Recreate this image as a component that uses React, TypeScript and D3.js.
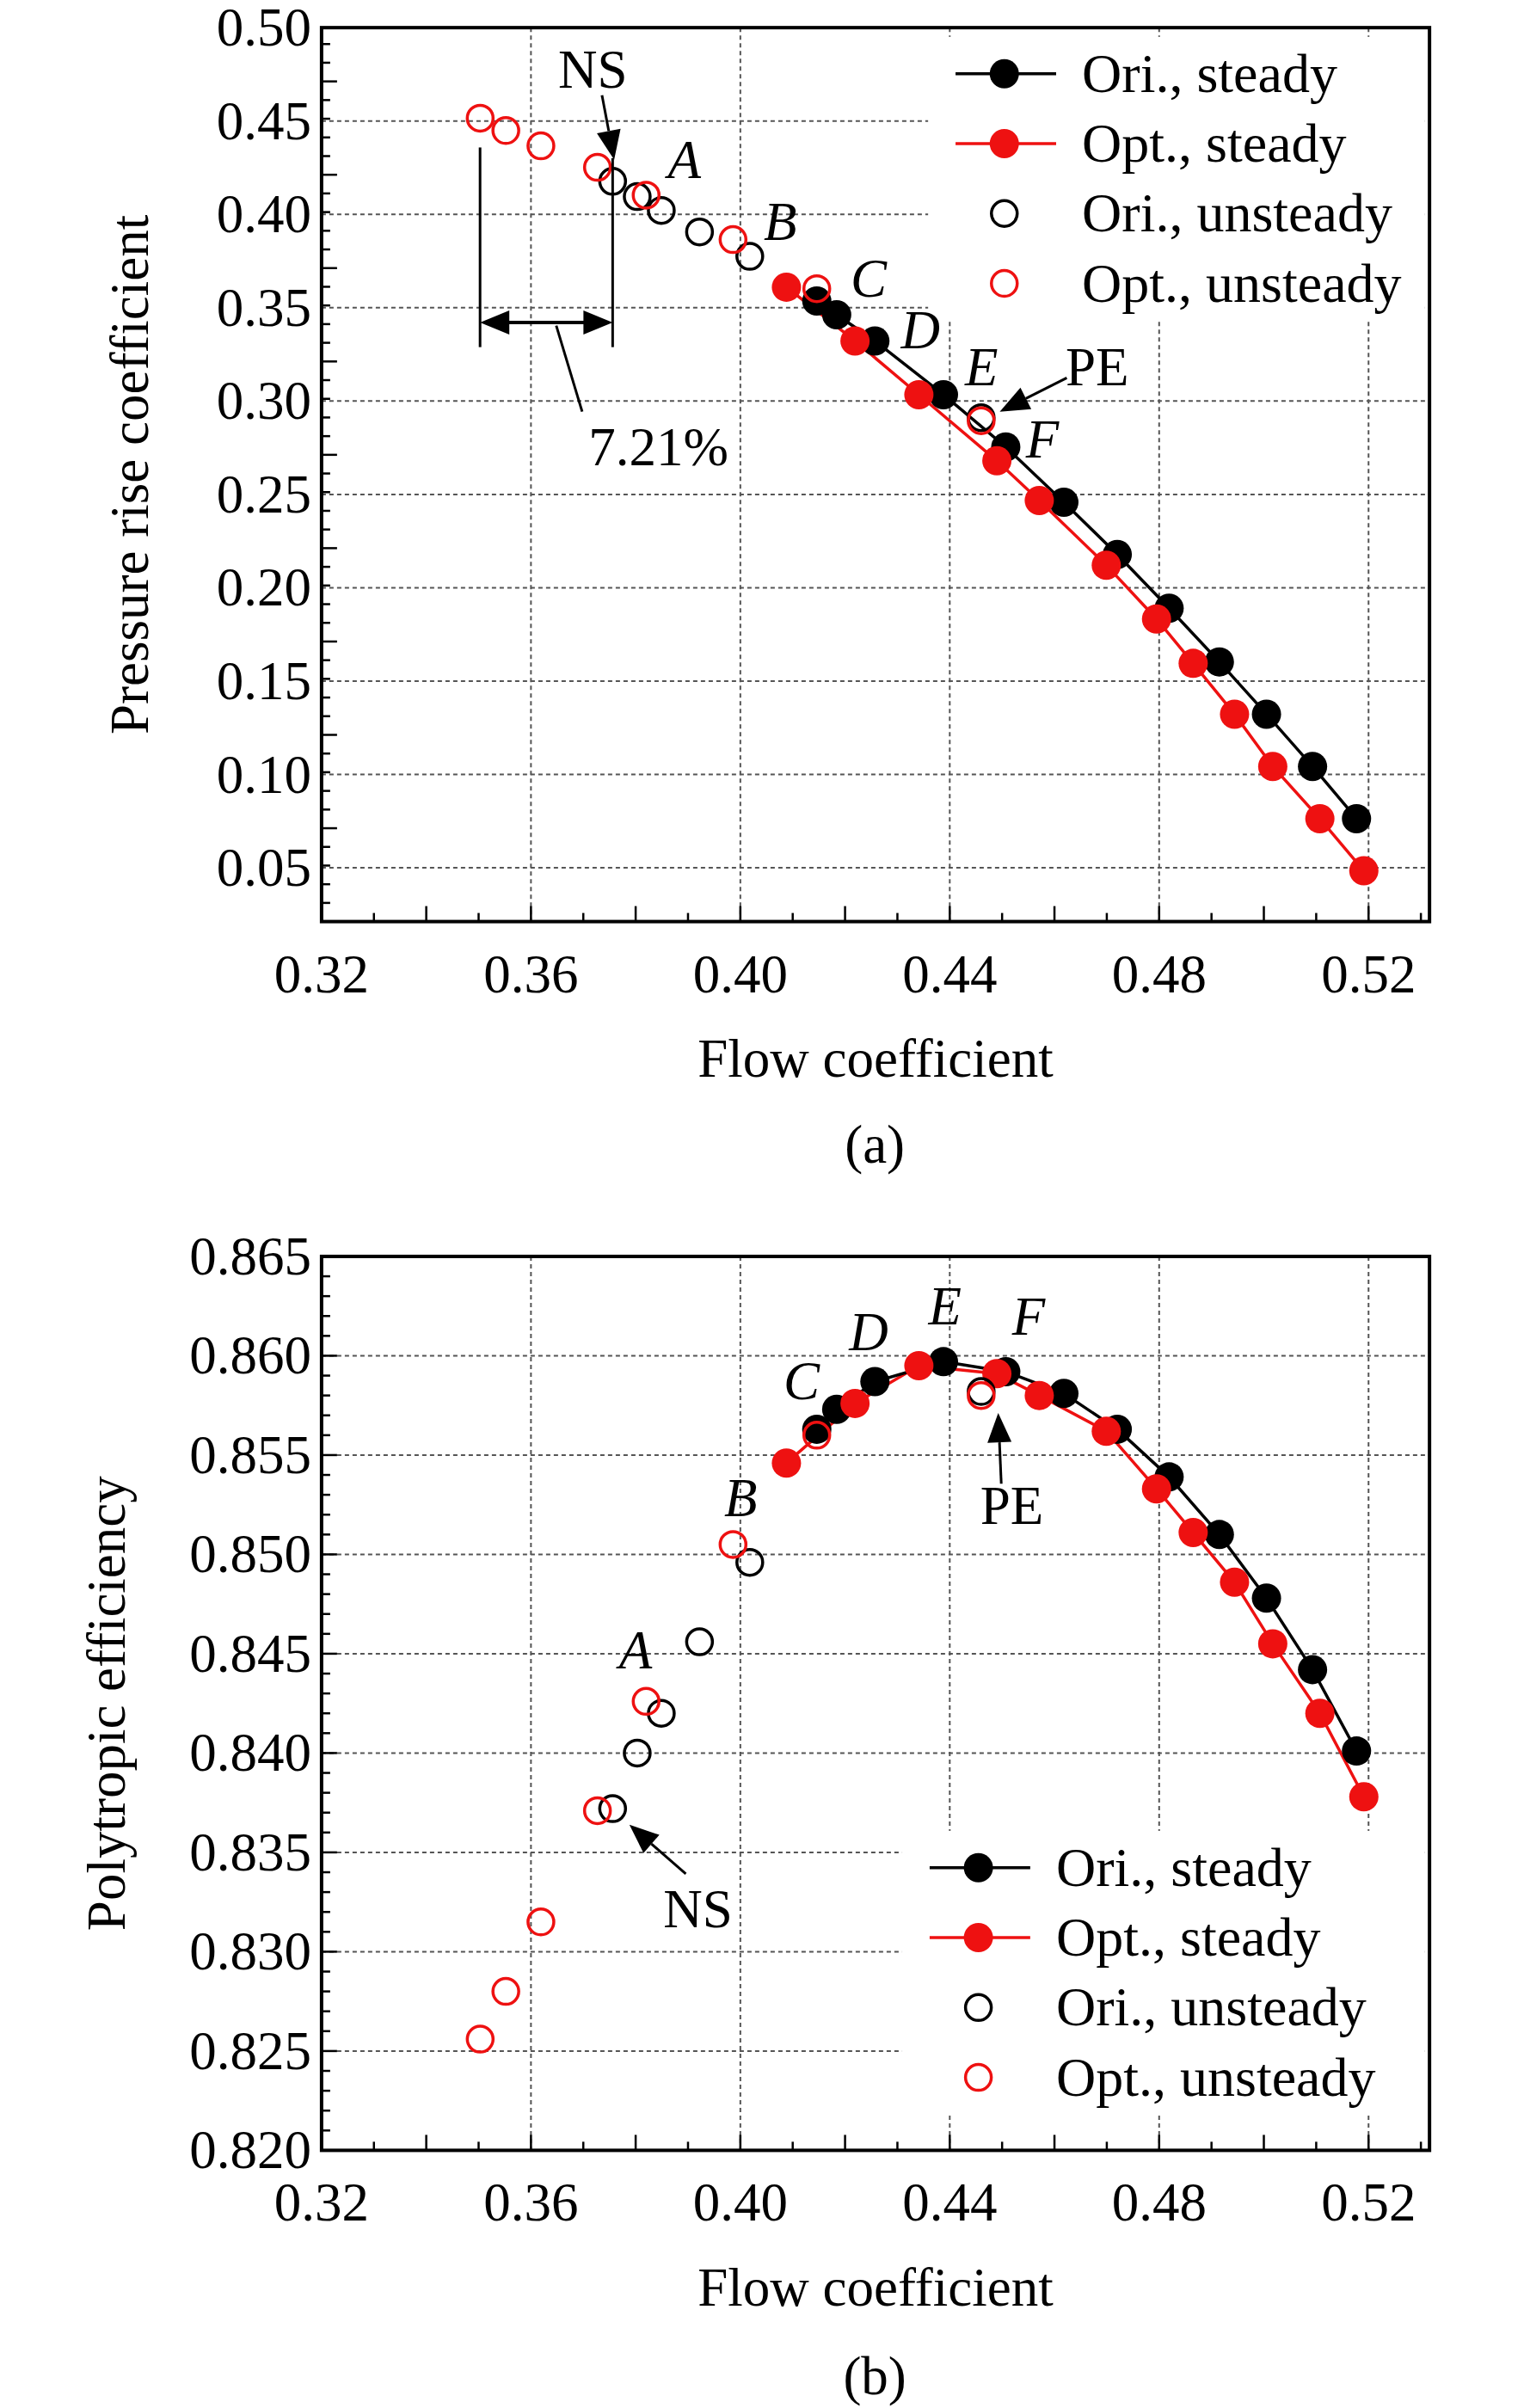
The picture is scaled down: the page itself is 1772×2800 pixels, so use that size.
import React from "react";
import * as d3 from "d3";

const xTicks = [0.32, 0.36, 0.40, 0.44, 0.48, 0.52];
const yTicksA = [0.05, 0.10, 0.15, 0.20, 0.25, 0.30, 0.35, 0.40, 0.45, 0.50];
const yTicksB = [0.820, 0.825, 0.830, 0.835, 0.840, 0.845, 0.850, 0.855, 0.860, 0.865];

const oriSteadyX = [0.4146, 0.4184, 0.4257, 0.4388, 0.4507, 0.4618, 0.4720, 0.4819, 0.4915, 0.5005, 0.5093, 0.5177];
const oriSteadyA = [0.3536, 0.3462, 0.3322, 0.3034, 0.2754, 0.2458, 0.2178, 0.1890, 0.1603, 0.1323, 0.1043, 0.0763];
const oriSteadyB = [0.8563, 0.8573, 0.8587, 0.8597, 0.8592, 0.8581, 0.8563, 0.8539, 0.8510, 0.8478, 0.8442, 0.8401];
const optSteadyX = [0.4088, 0.4219, 0.4341, 0.4490, 0.4571, 0.4699, 0.4795, 0.4865, 0.4944, 0.5017, 0.5107, 0.5191];
const optSteadyA = [0.3610, 0.3322, 0.3034, 0.2680, 0.2467, 0.2121, 0.1833, 0.1595, 0.1323, 0.1043, 0.0763, 0.0484];
const optSteadyB = [0.8546, 0.8576, 0.8595, 0.8591, 0.8580, 0.8562, 0.8533, 0.8511, 0.8486, 0.8455, 0.8420, 0.8378];
const oriUnsX = [0.3756, 0.3803, 0.3849, 0.3922, 0.4018, 0.4460];
const oriUnsA = [0.4177, 0.4095, 0.4021, 0.3906, 0.3775, 0.2911];
const oriUnsB = [0.8372, 0.8400, 0.8420, 0.8456, 0.8496, 0.8582];
const optUnsX = [0.3503, 0.3552, 0.3619, 0.3727, 0.3820, 0.3986, 0.4146, 0.4460];
const optUnsA = [0.4515, 0.4449, 0.4367, 0.4252, 0.4103, 0.3865, 0.3602, 0.2895];
const optUnsB = [0.8256, 0.8280, 0.8315, 0.8371, 0.8426, 0.8505, 0.8560, 0.8580];

const legendLabels = ["Ori., steady", "Opt., steady", "Ori., unsteady", "Opt., unsteady"];

const SX = 1.772, SY = 1.786;
const FONT = "'Liberation Serif', 'Times New Roman', serif";
const RED = "#ee1111";
const FS = 63;

type Ann = { t: string; x: number; y: number; it?: boolean };
type Arrow = { x1: number; y1: number; x2: number; y2: number };

function Panel(props: {
  top: number; bottom: number; ymin: number; ymax: number; yTicks: number[]; fmt: string;
  ya: number[]; yb: number[]; yc: number[]; yd: number[]; ytitle: string; ytitleX: number;
  sub: string; subY: number; xtitleY: number; legY: number; legX: number;
  anns: Ann[]; arrows: Arrow[]; extra?: React.ReactNode;
}) {
  const L = 211 * SX, R = 938 * SX;
  const T = props.top * SY, B = props.bottom * SY;
  const x = d3.scaleLinear().domain([0.32, 0.32 + (727 / 137.4) * 0.04]).range([L, R]);
  const y = d3.scaleLinear().domain([props.ymin, props.ymax]).range([B, T]);
  const fmt = d3.format(props.fmt);
  const line = d3.line<[number, number]>().x(d => x(d[0])).y(d => y(d[1]));
  const r = 17;
  const minorX = d3.range(0.32, 0.532, 0.01);
  const stepY = (props.yTicks[1] - props.yTicks[0]) / 5;
  const minorY = d3.range(props.ymin, props.ymax + 1e-9, stepY);
  const legRows = [0, 1, 2, 3].map(i => props.legY + i * 45.5);
  const P = (dx: number, dy: number) => [dx * SX, dy * SY];
  return (
    <g>
      <rect x={L} y={T} width={R - L} height={B - T} fill="white" />
      {xTicks.slice(1).map(t => <line key={"gx" + t} x1={x(t)} x2={x(t)} y1={T} y2={B} stroke="#555" strokeWidth={2} strokeDasharray="5,4" />)}
      {props.yTicks.map(t => <line key={"gy" + t} x1={L} x2={R} y1={y(t)} y2={y(t)} stroke="#555" strokeWidth={2} strokeDasharray="5,4" />)}
      {minorX.map((t, i) => <line key={"mx" + i} x1={x(t)} x2={x(t)} y1={B} y2={B - (i % 2 === 0 ? 18 : 10)} stroke="black" strokeWidth={2.5} />)}
      {minorY.map((t, i) => <line key={"my" + i} x1={L} x2={L + (i % 5 === 0 ? 18 : 10)} y1={y(t)} y2={y(t)} stroke="black" strokeWidth={2.5} />)}
      <rect x={(props.legX - 18) * SX} y={(props.legY - 24) * SY} width={(938 - props.legX + 15) * SX} height={184 * SY} fill="white" />
      <path d={line(optSteadyX.map((v, i) => [v, props.yb[i]]) as any) || ""} fill="none" stroke={RED} strokeWidth={3.5} />
      <path d={line(oriSteadyX.map((v, i) => [v, props.ya[i]]) as any) || ""} fill="none" stroke="black" strokeWidth={3.5} />
      {oriSteadyX.map((v, i) => <circle key={"os" + i} cx={x(v)} cy={y(props.ya[i])} r={r} fill="black" />)}
      {optSteadyX.map((v, i) => <circle key={"ps" + i} cx={x(v)} cy={y(props.yb[i])} r={r} fill={RED} />)}
      {oriUnsX.map((v, i) => <circle key={"ou" + i} cx={x(v)} cy={y(props.yc[i])} r={r - 2} fill="none" stroke="black" strokeWidth={3.5} />)}
      {optUnsX.map((v, i) => <circle key={"pu" + i} cx={x(v)} cy={y(props.yd[i])} r={r - 2} fill="none" stroke={RED} strokeWidth={3.5} />)}
      <rect x={L} y={T} width={R - L} height={B - T} fill="none" stroke="black" strokeWidth={4} />
      {xTicks.map(t => <text key={"xt" + t} x={x(t)} y={B + 82} textAnchor="middle" fontSize={FS} fontFamily={FONT}>{t.toFixed(2)}</text>)}
      {props.yTicks.map(t => <text key={"yt" + t} x={L - 12} y={y(t) + 21} textAnchor="end" fontSize={FS} fontFamily={FONT}>{fmt(t)}</text>)}
      <text x={(L + R) / 2} y={props.xtitleY * SY} textAnchor="middle" fontSize={FS} fontFamily={FONT}>Flow coefficient</text>
      <text x={574 * SX} y={props.subY * SY} textAnchor="middle" fontSize={FS} fontFamily={FONT}>{props.sub}</text>
      <text transform={`translate(${props.ytitleX * SX},${(T + B) / 2}) rotate(-90)`} textAnchor="middle" fontSize={FS} fontFamily={FONT}>{props.ytitle}</text>
      {legRows.map((ly, i) => {
        const cx = (props.legX + 32) * SX;
        const cy = ly * SY;
        return (
          <g key={"lg" + i}>
            {i < 2 && <line x1={props.legX * SX} x2={(props.legX + 66) * SX} y1={cy} y2={cy} stroke={i === 0 ? "black" : RED} strokeWidth={3.5} />}
            {i < 2 ? <circle cx={cx} cy={cy} r={r} fill={i === 0 ? "black" : RED} /> :
              <circle cx={cx} cy={cy} r={r - 2} fill="none" stroke={i === 2 ? "black" : RED} strokeWidth={3.5} />}
            <text x={(props.legX + 83) * SX} y={cy + 21} fontSize={64} fontFamily={FONT}>{legendLabels[i]}</text>
          </g>
        );
      })}
      {props.anns.map((a, i) => {
        const [px, py] = P(a.x, a.y);
        return <text key={"an" + i} x={px} y={py} textAnchor="middle" fontSize={FS} fontStyle={a.it ? "italic" : "normal"} fontFamily={FONT}>{a.t}</text>;
      })}
      {props.arrows.map((a, i) => {
        const [x1, y1] = P(a.x1, a.y1); const [x2, y2] = P(a.x2, a.y2);
        const ang = Math.atan2(y2 - y1, x2 - x1);
        const hl = 34, hw = 14;
        const bx = x2 - hl * Math.cos(ang), by = y2 - hl * Math.sin(ang);
        const pts = [[x2, y2], [bx - hw * Math.sin(ang), by + hw * Math.cos(ang)], [bx + hw * Math.sin(ang), by - hw * Math.cos(ang)]];
        return (
          <g key={"ar" + i}>
            <line x1={x1} y1={y1} x2={bx} y2={by} stroke="black" strokeWidth={3} />
            <polygon points={pts.map(p => p.join(",")).join(" ")} fill="black" />
          </g>
        );
      })}
      {props.extra}
    </g>
  );
}

export default function App() {
  const P = (dx: number, dy: number) => [dx * SX, dy * SY];
  const [v1x, vt] = P(315, 96); const [v2x, vb] = P(402, 226);
  const [, ay] = P(0, 210);
  const [l1x, l1y] = P(365, 212); const [l2x, l2y] = P(382, 268);
  const extraA = (
    <g>
      <line x1={v1x} x2={v1x} y1={vt} y2={vb} stroke="black" strokeWidth={3} />
      <line x1={v2x} x2={v2x} y1={P(0, 103)[1]} y2={vb} stroke="black" strokeWidth={3} />
      <line x1={v1x + 30} x2={v2x - 30} y1={ay} y2={ay} stroke="black" strokeWidth={4} />
      <polygon points={`${v1x},${ay} ${v1x + 34},${ay - 14} ${v1x + 34},${ay + 14}`} fill="black" />
      <polygon points={`${v2x},${ay} ${v2x - 34},${ay - 14} ${v2x - 34},${ay + 14}`} fill="black" />
      <line x1={l1x} y1={l1y} x2={l2x} y2={l2y} stroke="black" strokeWidth={3} />
    </g>
  );
  return (
    <svg width={1772} height={2800} style={{ position: "absolute", left: 0, top: 0, background: "white" }}>
      <rect width={1772} height={2800} fill="white" />
      <Panel top={18} bottom={600} ymin={0.05 - (35 / 60.78) * 0.05} ymax={0.5} yTicks={yTicksA} fmt=".2f"
        ya={oriSteadyA} yb={optSteadyA} yc={oriUnsA} yd={optUnsA}
        ytitle="Pressure rise coefficient" ytitleX={97} sub="(a)" subY={757} xtitleY={701}
        legX={627} legY={48}
        anns={[{ t: "NS", x: 389, y: 57 }, { t: "A", x: 449, y: 116, it: true }, { t: "B", x: 512, y: 156, it: true },
        { t: "C", x: 570, y: 193, it: true }, { t: "D", x: 604, y: 227, it: true }, { t: "E", x: 644, y: 251, it: true },
        { t: "F", x: 684, y: 298, it: true }, { t: "PE", x: 720, y: 251 }, { t: "7.21%", x: 432, y: 303 }]}
        arrows={[{ x1: 395, y1: 62, x2: 403, y2: 104 }, { x1: 700, y1: 246, x2: 656, y2: 268 }]}
        extra={extraA}
      />
      <Panel top={818} bottom={1400} ymin={0.82} ymax={0.865} yTicks={yTicksB} fmt=".3f"
        ya={oriSteadyB} yb={optSteadyB} yc={oriUnsB} yd={optUnsB}
        ytitle="Polytropic efficiency" ytitleX={82} sub="(b)" subY={1559} xtitleY={1501}
        legX={610} legY={1216}
        anns={[{ t: "C", x: 526, y: 911, it: true }, { t: "D", x: 570, y: 879, it: true }, { t: "E", x: 620, y: 862, it: true },
        { t: "F", x: 675, y: 869, it: true }, { t: "B", x: 486, y: 987, it: true }, { t: "A", x: 417, y: 1086, it: true },
        { t: "NS", x: 458, y: 1255 }, { t: "PE", x: 664, y: 992 }]}
        arrows={[{ x1: 450, y1: 1220, x2: 413, y2: 1188 }, { x1: 657, y1: 966, x2: 655, y2: 920 }]}
      />
    </svg>
  );
}
